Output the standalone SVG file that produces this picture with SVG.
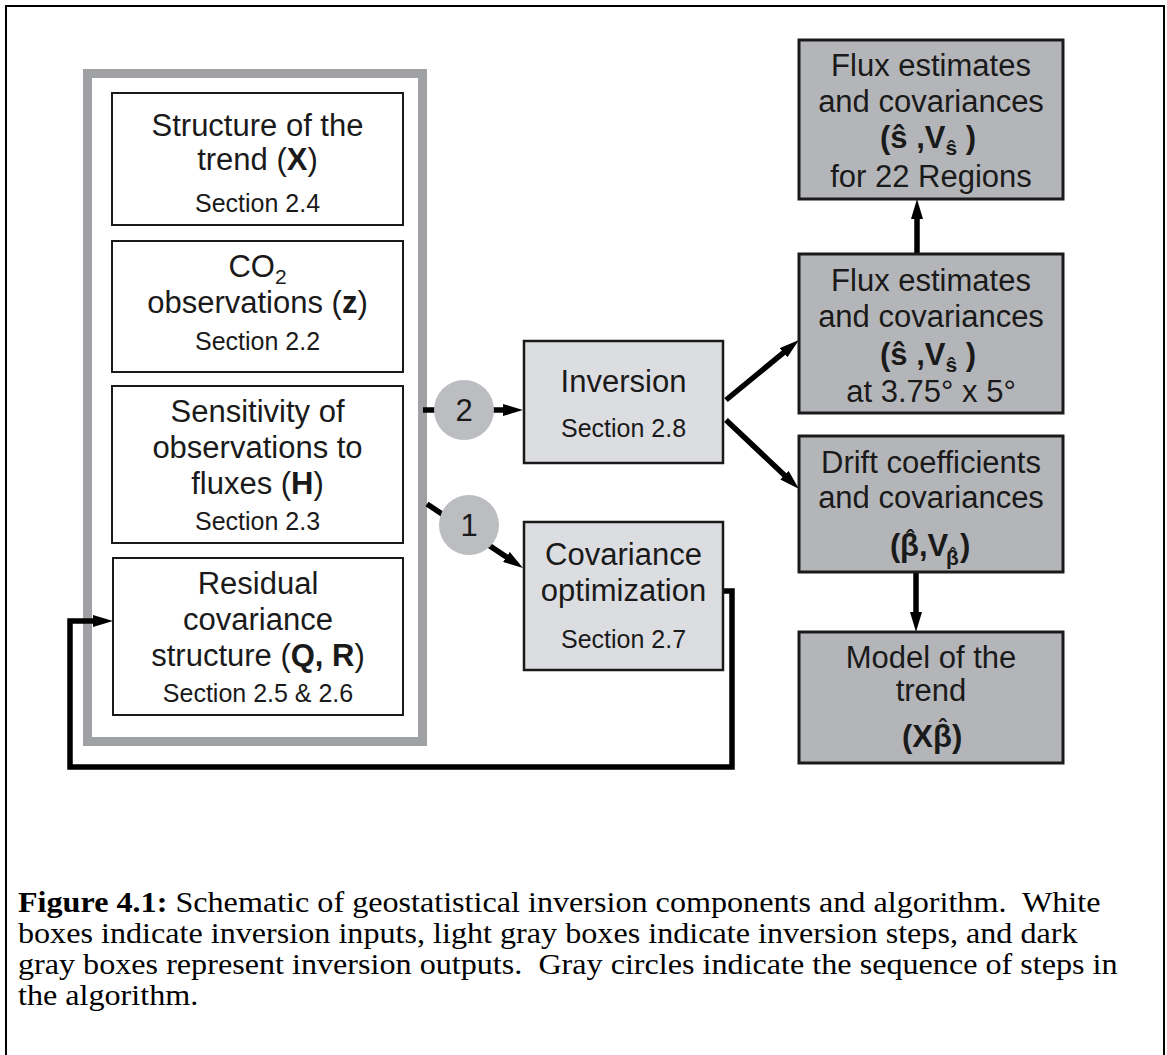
<svg xmlns="http://www.w3.org/2000/svg" width="1167" height="1055" viewBox="0 0 1167 1055">
<style>
.t{font-family:"Liberation Sans",Arial,sans-serif;font-size:31px;fill:#1a1a1a;text-anchor:middle}
.l{text-anchor:start}
.s{font-size:25px}
.b{font-weight:bold}
.sub{font-size:21px}
.in{fill:#fff;stroke:#1a1a1a;stroke-width:2}
.step{fill:#dcdde0;stroke:#1a1a1a;stroke-width:2.5}
.out{fill:#b4b5b8;stroke:#1a1a1a;stroke-width:3}
.circ{fill:#bcbdc0}
.conn{stroke:#000;stroke-width:5.5;fill:none}
.cap{font-family:"Liberation Serif","Times New Roman",serif;font-size:29.5px;fill:#000;white-space:pre}
</style>
<defs>
<marker id="ah" viewBox="0 0 20 12" refX="4" refY="6" markerWidth="20" markerHeight="12" markerUnits="userSpaceOnUse" orient="auto">
<path d="M0,0 L20,6 L0,12 z" fill="#000"/>
</marker>
</defs>
<rect x="6" y="6" width="1158" height="1052" fill="#fff" stroke="#000" stroke-width="2"/>
<rect id="inputs-frame" x="87.5" y="73.5" width="335" height="668" fill="none" stroke="#a0a1a4" stroke-width="9"/>
<g id="connectors">
<line class="conn" x1="423" y1="410" x2="507" y2="410" marker-end="url(#ah)"/>
<line class="conn" x1="427" y1="504" x2="509.7" y2="559.1" marker-end="url(#ah)"/>
<line class="conn" x1="726" y1="400" x2="786.6" y2="350.2" marker-end="url(#ah)"/>
<line class="conn" x1="726" y1="420" x2="787.4" y2="478" marker-end="url(#ah)"/>
<line class="conn" x1="917" y1="254" x2="917" y2="215" marker-end="url(#ah)"/>
<line class="conn" x1="916" y1="572" x2="916" y2="616" marker-end="url(#ah)"/>
<path class="conn" d="M721,591 H732 V767 H70 V621 H97" marker-end="url(#ah)"/>
</g>
<g id="structure">
<rect class="in" x="112" y="93" width="291" height="132"/>
<text class="t" x="257.5" y="136">Structure of the</text>
<text class="t" x="257.5" y="170">trend (<tspan class="b">X</tspan>)</text>
<text class="t s" x="257.5" y="212">Section 2.4</text>
</g>
<g id="observations">
<rect class="in" x="112" y="241" width="291" height="131"/>
<text class="t" x="257.5" y="277">CO<tspan class="sub" dy="7">2</tspan></text>
<text class="t" x="257.5" y="313">observations (<tspan class="b">z</tspan>)</text>
<text class="t s" x="257.5" y="350">Section 2.2</text>
</g>
<g id="sensitivity">
<rect class="in" x="112" y="386" width="291" height="157"/>
<text class="t" x="257.5" y="422">Sensitivity of</text>
<text class="t" x="257.5" y="458">observations to</text>
<text class="t" x="257.5" y="494">fluxes (<tspan class="b">H</tspan>)</text>
<text class="t s" x="257.5" y="530">Section 2.3</text>
</g>
<g id="residual">
<rect class="in" x="113" y="558" width="290" height="157"/>
<text class="t" x="258" y="594">Residual</text>
<text class="t" x="258" y="630">covariance</text>
<text class="t" x="258" y="666">structure (<tspan class="b">Q, R</tspan>)</text>
<text class="t s" x="258" y="702">Section 2.5 &amp; 2.6</text>
</g>
<g id="step2">
<circle class="circ" cx="464" cy="410" r="30"/>
<text class="t" x="464" y="421">2</text>
</g>
<g id="step1">
<circle class="circ" cx="469" cy="525" r="30"/>
<text class="t" x="469" y="536">1</text>
</g>
<g id="inversion">
<rect class="step" x="524" y="341" width="199" height="122"/>
<text class="t" x="623.5" y="392">Inversion</text>
<text class="t s" x="623.5" y="437">Section 2.8</text>
</g>
<g id="covopt">
<rect class="step" x="524" y="522" width="199" height="148"/>
<text class="t" x="623.5" y="565">Covariance</text>
<text class="t" x="623.5" y="601">optimization</text>
<text class="t s" x="623.5" y="648">Section 2.7</text>
</g>
<g id="flux-regions">
<rect class="out" x="799" y="40" width="264" height="159"/>
<text class="t" x="931" y="76">Flux estimates</text>
<text class="t" x="931" y="112">and covariances</text>
<text class="t b" x="928" y="148">(ŝ ,V<tspan class="sub" dy="7">ŝ</tspan><tspan dy="-7"> )</tspan></text>
<text class="t" x="931" y="187">for 22 Regions</text>
</g>
<g id="flux-grid">
<rect class="out" x="799" y="254" width="264" height="159"/>
<text class="t" x="931" y="291">Flux estimates</text>
<text class="t" x="931" y="327">and covariances</text>
<text class="t b" x="928" y="365">(ŝ ,V<tspan class="sub" dy="7">ŝ</tspan><tspan dy="-7"> )</tspan></text>
<text class="t" x="931" y="402">at 3.75° x 5°</text>
</g>
<g id="drift">
<rect class="out" x="799" y="436" width="264" height="136"/>
<text class="t" x="931" y="473">Drift coefficients</text>
<text class="t" x="931" y="508">and covariances</text>
<text class="t b l" x="890" y="556">(<tspan x="900">β</tspan>,V<tspan class="sub" x="946" dy="9">β</tspan><tspan x="960" dy="-9">)</tspan><tspan x="906" y="547" font-size="24">ˆ</tspan><tspan x="949.7" y="560" font-size="17">ˆ</tspan></text>
</g>
<g id="model">
<rect class="out" x="799" y="632" width="264" height="131"/>
<text class="t" x="931" y="668">Model of the</text>
<text class="t" x="931" y="701">trend</text>
<text class="t b l" x="902" y="747">(X<tspan x="933">β</tspan>)<tspan x="938.5" y="736" font-size="24">ˆ</tspan></text>
</g>
<g id="caption" transform="scale(1.09,1)">
<text class="cap" x="16.5" y="912" xml:space="preserve"><tspan font-weight="bold">Figure 4.1:</tspan> Schematic of geostatistical inversion components and algorithm.  White</text>
<text class="cap" x="16.5" y="943">boxes indicate inversion inputs, light gray boxes indicate inversion steps, and dark</text>
<text class="cap" x="16.5" y="974" xml:space="preserve">gray boxes represent inversion outputs.  Gray circles indicate the sequence of steps in</text>
<text class="cap" x="16.5" y="1005">the algorithm.</text>
</g>
</svg>
